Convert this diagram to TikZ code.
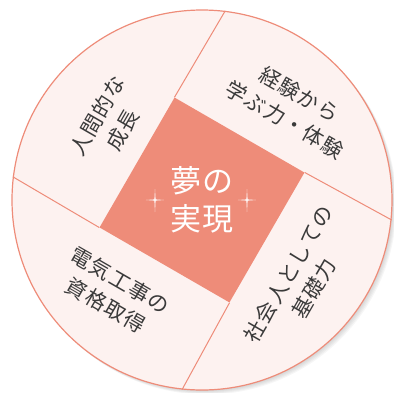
\documentclass[tikz,border=0pt]{standalone}
\usepackage{fontspec}
\usepackage{tikz}
\usetikzlibrary{positioning}
\newfontfamily\jpfont[LetterSpace=6]{Noto Sans CJK JP}
\newfontfamily\jptitle[LetterSpace=2]{Noto Sans CJK JP}
\definecolor{salmon}{HTML}{EE8C79}
\definecolor{blush}{HTML}{FDF2F0}
\definecolor{ink}{HTML}{3A3A3A}

\tikzset{
  leaf/.style={align=center, text=ink, inner sep=0pt,
    font=\jpfont\fontsize{21}{29}\selectfont},
  divider/.style={draw=salmon, line width=1pt},
  sparkle/.style={fill=white, draw=none}
}

\begin{document}
\begin{tikzpicture}[x=1pt, y=1pt]
\useasboundingbox (-202,-192) rectangle (192,200);

% soft shadow under the disc
\foreach \s in {1,...,5}
  \fill[black, opacity=0.035] (0.9*\s,-0.9*\s) circle (190);

\node[circle, draw=salmon, line width=1.2pt, fill=blush, minimum size=380pt, inner sep=0pt] (disc) at (0,0) {};
\node[rectangle, fill=salmon, minimum size=150pt, inner sep=0pt, rotate=-30] (dream) at (disc.center) {};

% pinwheel lines: each side of the square runs on to the rim
\draw[divider] (dream.north west) -- (disc.83.25)
  (dream.north east) -- (disc.-6.75)
  (dream.south east) -- (disc.-96.75)
  (dream.south west) -- (disc.173.25);

\node[leaf, rotate=60] (growth) at (-92,77) {人間的な\\成長};
\node[leaf, rotate=-30] (skills) at (90,93) {経験から\\学ぶ力・体験};
\node[leaf, rotate=60] (basics) at (99,-81) {社会人としての\\基礎力};
\node[leaf, rotate=-30] (license) at (-89,-93) {電気工事の\\資格取得};

\node[align=center, text=white, inner sep=0pt, font=\jptitle\fontsize{31}{38}\selectfont] (goal) at (dream.center) {夢の\\実現};

\coordinate (spl) at (-47,0);
\coordinate (spr) at (45,0);
\foreach \p in {spl, spr}
  \fill[sparkle, shift={(\p)}] (0,11) -- (0.6,0.6) -- (9,0) -- (0.6,-0.6) -- (0,-12)
    -- (-0.6,-0.6) -- (-9,0) -- (-0.6,0.6) -- cycle;

\end{tikzpicture}
\end{document}
